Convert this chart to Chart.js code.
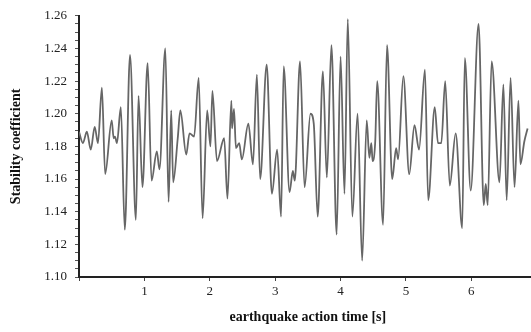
<!DOCTYPE html>
<html>
<head>
<meta charset="utf-8">
<script src="https://cdn.jsdelivr.net/npm/chart.js@4/dist/chart.umd.min.js"></script>
<style>
  html, body { margin: 0; padding: 0; background: #fff; }
  #wrap { width: 531px; height: 332px; overflow: hidden; }
</style>
</head>
<body>
<div id="wrap"><canvas id="myChart" width="543" height="332"></canvas></div>
<script>
// time [s] and stability coefficient (turning points)
var times = [0.00, 0.06, 0.12, 0.18, 0.24, 0.29, 0.35, 0.40, 0.50, 0.53, 0.55, 0.58, 0.64, 0.70, 0.78, 0.87, 0.91, 0.97,
  1.05, 1.11, 1.19, 1.23, 1.32, 1.37, 1.41, 1.44, 1.51, 1.55, 1.64, 1.69, 1.76, 1.83, 1.89, 1.96,
  2.01, 2.04, 2.11, 2.22, 2.27, 2.33, 2.34, 2.37, 2.40, 2.45, 2.49, 2.59, 2.66, 2.72, 2.77, 2.87, 2.95,
  3.03, 3.09, 3.13, 3.22, 3.27, 3.30, 3.38, 3.45, 3.54, 3.59, 3.65, 3.73, 3.79, 3.86, 3.94,
  4.00, 4.06, 4.11, 4.18, 4.26, 4.33, 4.40, 4.44, 4.47, 4.49, 4.53, 4.56, 4.65, 4.71, 4.79, 4.85, 4.88, 4.96,
  5.05, 5.13, 5.20, 5.29, 5.34, 5.44, 5.49, 5.54, 5.60, 5.67, 5.76, 5.86, 5.90, 5.99,
  6.11, 6.19, 6.22, 6.25, 6.31, 6.43, 6.49, 6.54, 6.60, 6.66, 6.72, 6.75, 6.81, 6.86];
var coeff = [1.189, 1.182, 1.189, 1.178, 1.192, 1.182, 1.216, 1.163, 1.196, 1.185, 1.186, 1.182, 1.204, 1.129, 1.236, 1.135, 1.211, 1.155,
  1.231, 1.159, 1.177, 1.166, 1.240, 1.146, 1.202, 1.158, 1.185, 1.202, 1.175, 1.188, 1.186, 1.222, 1.136, 1.202,
  1.180, 1.214, 1.171, 1.185, 1.148, 1.208, 1.191, 1.203, 1.179, 1.182, 1.172, 1.194, 1.169, 1.224, 1.160, 1.230, 1.151,
  1.178, 1.137, 1.229, 1.152, 1.165, 1.159, 1.232, 1.155, 1.200, 1.194, 1.137, 1.226, 1.161, 1.242, 1.126,
  1.235, 1.151, 1.258, 1.137, 1.200, 1.110, 1.196, 1.173, 1.182, 1.171, 1.183, 1.220, 1.132, 1.242, 1.160, 1.179, 1.172, 1.223,
  1.163, 1.193, 1.178, 1.227, 1.147, 1.204, 1.182, 1.182, 1.220, 1.156, 1.188, 1.130, 1.234, 1.153,
  1.255, 1.144, 1.157, 1.144, 1.232, 1.158, 1.218, 1.147, 1.222, 1.155, 1.208, 1.169, 1.183, 1.191];

var xTitle = "earthquake action time [s]";
var yTitle = "Stability coefficient";

var points = times.map(function (t, i) { return { x: t, y: coeff[i] }; });

var serif = "'Liberation Serif', 'Times New Roman', serif";

new Chart("myChart", {
  type: "line",
  data: {
    datasets: [{
      data: points,
      borderColor: "#666",
      borderWidth: 1.8,
      pointRadius: 0,
      cubicInterpolationMode: "monotone",
      fill: false
    }]
  },
  options: {
    responsive: false,
    animation: false,
    layout: { autoPadding: false, padding: { top: 14, right: 4, left: 0, bottom: 0 } },
    plugins: { legend: { display: false }, tooltip: { enabled: false } },
    scales: {
      x: {
        type: "linear",
        min: 0,
        max: 7,
        afterFit: function (s) { s.height = 55; },
        border: { color: "#222", width: 2 },
        grid: { drawOnChartArea: false, tickLength: 4, color: "#444" },
        ticks: {
          stepSize: 1,
          padding: 3,
          maxRotation: 0,
          color: "#222",
          font: { family: serif, size: 13 },
          callback: function (v) { return v === 0 ? "" : v; }
        },
        title: {
          display: true,
          text: xTitle,
          color: "#111",
          padding: { top: 0, bottom: 6 },
          font: { family: serif, size: 14, weight: "bold" }
        }
      },
      y: {
        min: 1.10,
        max: 1.26,
        afterFit: function (s) { s.width = 79; },
        border: { color: "#222", width: 2 },
        grid: { drawOnChartArea: false, tickLength: 4, color: "#555" },
        ticks: {
          stepSize: 0.005,
          autoSkip: false,
          maxTicksLimit: 60,
          padding: 8,
          color: "#222",
          font: { family: serif, size: 13 },
          callback: function (v) {
            return Math.abs(v * 50 - Math.round(v * 50)) < 1e-6 ? v.toFixed(2) : "";
          }
        },
        title: {
          display: true,
          text: yTitle,
          color: "#111",
          padding: { top: 8, bottom: 0 },
          font: { family: serif, size: 14, weight: "bold" }
        }
      }
    }
  }
});
</script>
</body>
</html>
